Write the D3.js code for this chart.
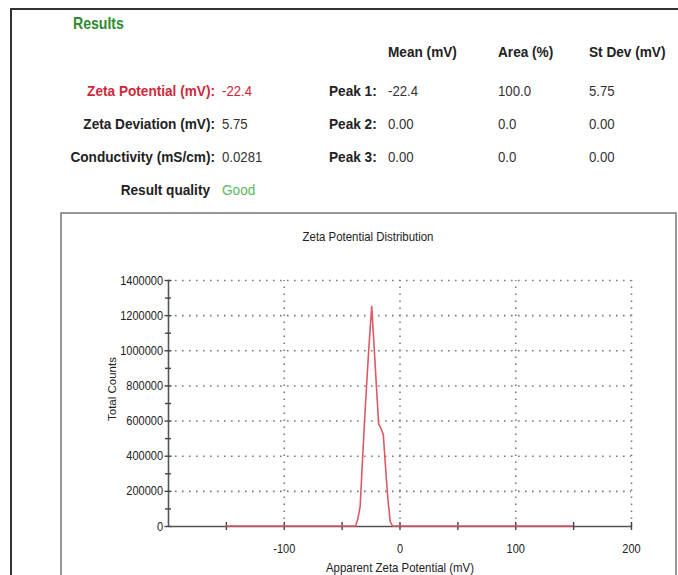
<!DOCTYPE html>
<html>
<head>
<meta charset="utf-8">
<script src="https://cdn.jsdelivr.net/npm/d3@7"></script>
<style>
  html, body { margin: 0; padding: 0; background: #fff; }
  svg text { font-family: "Liberation Sans", Arial, sans-serif; }
</style>
</head>
<body>
<div id="chart"></div>
<script>
"use strict";

// results summary
const resultLabels = ["Zeta Potential (mV):", "Zeta Deviation (mV):", "Conductivity (mS/cm):"];
const resultValues = ["-22.4", "5.75", "0.0281"];
const qualityLabel = "Result quality";
const qualityValue = "Good";

// peak table
const peakHeaders = ["Mean (mV)", "Area (%)", "St Dev (mV)"];
const peakLabels = ["Peak 1:", "Peak 2:", "Peak 3:"];
const peakMeans = ["-22.4", "0.00", "0.00"];
const peakAreas = ["100.0", "0.0", "0.0"];
const peakStDevs = ["5.75", "0.00", "0.00"];

// distribution curve
const zetaMV = [-150, -40, -38, -36, -34, -32, -30, -28, -26, -24, -22, -20, -18, -16, -14, -12, -10, -8, -6, 150];
const totalCounts = [0, 0, 0, 40000, 110000, 370000, 620000, 850000, 1060000, 1250000, 1030000, 800000, 580000, 555000, 520000, 330000, 150000, 25000, 0, 0];

const xMajorTicks = [-100, 0, 100, 200];
const xMinorTicks = [-150, -50, 50, 150];
const yMajorTicks = [0, 200000, 400000, 600000, 800000, 1000000, 1200000, 1400000];
const yMinorTicks = [100000, 300000, 500000, 700000, 900000, 1100000, 1300000];

const width = 678;
const height = 575;
const narrow = 0.88; // fake Arial Narrow by squeezing Liberation Sans

const svg = d3.select("#chart")
  .append("svg")
  .attr("width", width)
  .attr("height", height)
;

const place = (x, y) => `translate(${x},${y}) scale(${narrow},1)`;

// frames
svg.append("path")
  .attr("d", "M11,575V9H678")
  .attr("fill", "none")
  .attr("stroke", "#333")
  .attr("stroke-width", 2)
;
svg.append("path")
  .attr("d", "M61,575V213H676V575")
  .attr("fill", "none")
  .attr("stroke", "#777")
  .attr("stroke-width", 1.5)
;

// header text
svg.append("text")
  .attr("transform", place(73, 29))
  .attr("fill", "#2f8a30")
  .attr("font-size", 16)
  .attr("font-weight", "bold")
  .text("Results")
;

const rowY = [96, 129, 162];

svg.selectAll(".res-label")
  .data(resultLabels)
  .enter()
  .append("text")
  .attr("class", "res-label")
  .attr("transform", (d, i) => place(215, rowY[i]))
  .attr("text-anchor", "end")
  .attr("font-size", 15.5)
  .attr("font-weight", "bold")
  .attr("fill", (d, i) => i === 0 ? "#d0283a" : "#222")
  .text(d => d)
;

svg.selectAll(".res-value")
  .data(resultValues)
  .enter()
  .append("text")
  .attr("class", "res-value")
  .attr("transform", (d, i) => place(222, rowY[i]))
  .attr("font-size", 15)
  .attr("fill", (d, i) => i === 0 ? "#d0283a" : "#333")
  .text(d => d)
;

svg.append("text")
  .attr("transform", place(210, 195))
  .attr("text-anchor", "end")
  .attr("font-size", 15.5)
  .attr("font-weight", "bold")
  .attr("fill", "#222")
  .text(qualityLabel)
;
svg.append("text")
  .attr("transform", place(222, 195))
  .attr("font-size", 15.5)
  .attr("fill", "#5cb85c")
  .text(qualityValue)
;

// peak table
const colX = [388, 498, 589];

svg.selectAll(".peak-head")
  .data(peakHeaders)
  .enter()
  .append("text")
  .attr("class", "peak-head")
  .attr("transform", (d, i) => place(colX[i], 57))
  .attr("font-size", 15.5)
  .attr("font-weight", "bold")
  .attr("fill", "#222")
  .text(d => d)
;

svg.selectAll(".peak-label")
  .data(peakLabels)
  .enter()
  .append("text")
  .attr("class", "peak-label")
  .attr("transform", (d, i) => place(329, rowY[i]))
  .attr("font-size", 15.5)
  .attr("font-weight", "bold")
  .attr("fill", "#222")
  .text(d => d)
;

[peakMeans, peakAreas, peakStDevs].forEach((col, c) => {
  svg.selectAll(".peak-col" + c)
    .data(col)
    .enter()
    .append("text")
    .attr("class", "peak-col" + c)
    .attr("transform", (d, i) => place(colX[c], rowY[i]))
    .attr("font-size", 15)
    .attr("fill", "#333")
    .text(d => d)
  ;
});

// chart
const xScale = d3.scaleLinear().domain([-200, 200]).range([168, 631]);
const yScale = d3.scaleLinear().domain([0, 1400000]).range([526, 280]);

svg.append("text")
  .attr("transform", place(368, 241))
  .attr("text-anchor", "middle")
  .attr("font-size", 13)
  .attr("fill", "#222")
  .text("Zeta Potential Distribution")
;

// grid
const gridStyle = g => {
  g.select(".domain").remove();
  g.selectAll(".tick text").remove();
  g.selectAll(".tick line")
    .attr("stroke", "#7a7a7a")
    .attr("stroke-width", 1.6)
    .attr("stroke-dasharray", "1.6,5.4")
  ;
};

svg.append("g")
  .attr("transform", `translate(${xScale(-200)},0)`)
  .call(d3.axisLeft(yScale).tickValues(yMajorTicks.slice(1)).tickSize(-(xScale(200) - xScale(-200))))
  .call(gridStyle)
;
svg.append("g")
  .attr("transform", `translate(0,${yScale(0)})`)
  .call(d3.axisBottom(xScale).tickValues(xMajorTicks).tickSize(-(yScale(0) - yScale(1400000))))
  .call(gridStyle)
;

// axes, ticks cross the axis line
const crossTicks = (g, horizontal, half) => {
  g.selectAll(".tick line")
    .attr(horizontal ? "x1" : "y1", -half)
    .attr(horizontal ? "x2" : "y2", half)
    .attr("stroke", "#444")
    .attr("stroke-width", 1.4)
  ;
  g.select(".domain").attr("stroke", "#555").attr("stroke-width", 1.6);
};

const yAxis = svg.append("g")
  .attr("transform", `translate(${xScale(-200)},0)`)
  .call(d3.axisLeft(yScale).tickValues(yMajorTicks).tickSizeOuter(0).tickFormat(d => String(d)))
  .call(g => crossTicks(g, true, 3.5))
;
yAxis.selectAll(".tick text")
  .attr("x", null)
  .attr("transform", place(-5, 0))
  .attr("font-size", 12.5)
  .attr("fill", "#222")
;
svg.append("g")
  .attr("transform", `translate(${xScale(-200)},0)`)
  .call(d3.axisLeft(yScale).tickValues(yMinorTicks).tickSizeOuter(0).tickFormat(""))
  .call(g => crossTicks(g, true, 3))
  .call(g => g.select(".domain").remove())
;

const xAxis = svg.append("g")
  .attr("transform", `translate(0,${yScale(0)})`)
  .call(d3.axisBottom(xScale).tickValues(xMajorTicks).tickSizeOuter(0).tickFormat(d => String(d)))
  .call(g => crossTicks(g, false, 4))
;
xAxis.selectAll(".tick text")
  .attr("y", null)
  .attr("dy", null)
  .attr("transform", place(0, 26.5))
  .attr("font-size", 12.5)
  .attr("fill", "#222")
;
svg.append("g")
  .attr("transform", `translate(0,${yScale(0)})`)
  .call(d3.axisBottom(xScale).tickValues(xMinorTicks).tickSizeOuter(0).tickFormat(""))
  .call(g => crossTicks(g, false, 4))
  .call(g => g.select(".domain").remove())
;

// axis titles
svg.append("text")
  .attr("transform", "translate(116,389) rotate(-90)")
  .attr("text-anchor", "middle")
  .attr("font-size", 11.5)
  .attr("fill", "#222")
  .text("Total Counts")
;
svg.append("text")
  .attr("transform", place(400, 572))
  .attr("text-anchor", "middle")
  .attr("font-size", 13)
  .attr("fill", "#222")
  .text("Apparent Zeta Potential (mV)")
;

// curve
const line = d3.line()
  .x((d, i) => xScale(zetaMV[i]))
  .y(d => yScale(d))
;
svg.append("path")
  .datum(totalCounts)
  .attr("d", line)
  .attr("fill", "none")
  .attr("stroke", "#dc5a66")
  .attr("stroke-width", 1.6)
  .attr("stroke-linejoin", "round")
;
</script>
</body>
</html>
